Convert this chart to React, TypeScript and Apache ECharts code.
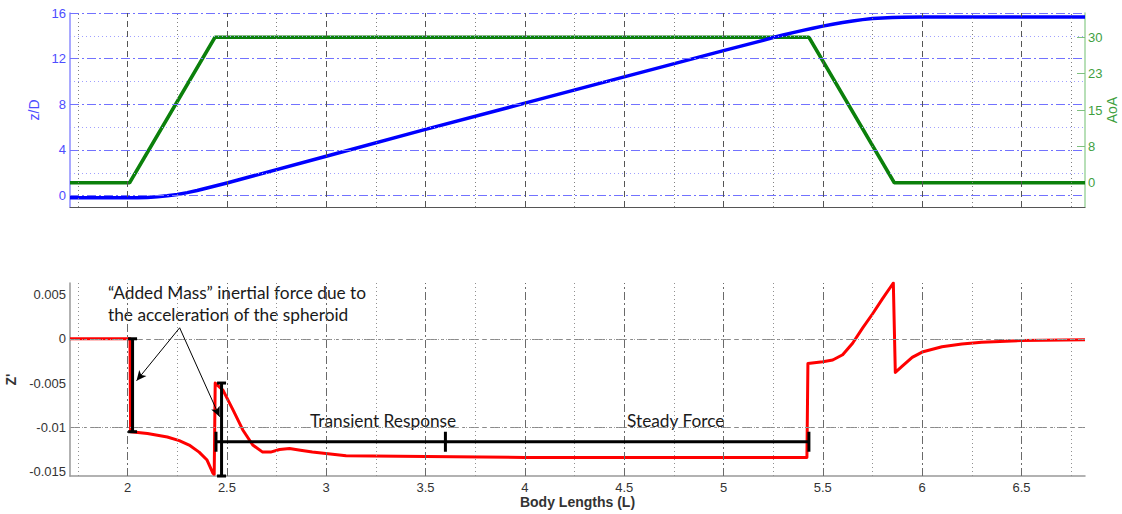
import React, { useEffect, useRef } from "react";
import * as echarts from "echarts";

// Shared x range (body lengths)
const xMin = 1.71;
const xMax = 6.82;
const xMajorTicks = [2, 2.5, 3, 3.5, 4, 4.5, 5, 5.5, 6, 6.5];
const xMinorTicks = [1.75, 2.25, 2.75, 3.25, 3.75, 4.25, 4.75, 5.25, 5.75, 6.25, 6.75];

// Upper panel: depth z/D (left) and angle of attack (right)
const zdRange = [-1, 16];
const zdMajorTicks = [0, 4, 8, 12, 16];
const zdMinorTicks = [2, 6, 10, 14];
const aoaRange = [-5, 35];
const aoaTicks = [0, 7.5, 15, 22.5, 30];

const zOverD: [number, number][] = [
  [1.71, -0.2], [2.0, -0.2], [2.05, -0.19], [2.1, -0.16], [2.15, -0.1], [2.2, -0.02],
  [2.25, 0.1], [2.3, 0.26], [2.35, 0.45], [2.4, 0.67], [2.45, 0.88], [2.5, 1.1],
  [3.0, 3.45], [3.5, 5.8], [4.0, 8.1], [4.5, 10.4], [5.0, 12.7], [5.2, 13.6],
  [5.25, 13.85], [5.3, 14.07], [5.35, 14.28], [5.4, 14.48], [5.45, 14.67], [5.5, 14.85],
  [5.55, 15.02], [5.6, 15.17], [5.65, 15.3], [5.7, 15.42], [5.75, 15.51], [5.8, 15.57],
  [5.85, 15.61], [5.9, 15.63], [6.0, 15.65], [6.82, 15.65],
];

const angleOfAttack: [number, number][] = [
  [1.71, 0], [2.01, 0], [2.44, 30], [5.43, 30], [5.86, 0], [6.82, 0],
];

// Lower panel: normal force coefficient Z'
const forceRange = [-0.0155, 0.0063];
const forceMajorTicks = [-0.015, -0.01, -0.005, 0, 0.005];
const forceMinorTicks = [-0.0125, -0.0075, -0.0025, 0.0025];

const normalForce: [number, number][] = [
  [1.71, 0], [2.0, 0], [2.012, 0], [2.015, -0.0105], [2.1, -0.0107], [2.2, -0.0111],
  [2.26, -0.0115], [2.31, -0.012], [2.36, -0.0128], [2.4, -0.0137], [2.43, -0.0152],
  [2.436, -0.0153], [2.441, -0.005], [2.48, -0.0058], [2.53, -0.008], [2.58, -0.0103],
  [2.63, -0.012], [2.68, -0.0128], [2.72, -0.0128], [2.765, -0.0125], [2.815, -0.0124],
  [2.87, -0.0126], [2.93, -0.0128], [3.1, -0.0132], [3.5, -0.0133], [4.0, -0.0134],
  [5.0, -0.0134], [5.42, -0.0134], [5.425, -0.0028], [5.5, -0.0026], [5.55, -0.0024],
  [5.6, -0.0018], [5.65, -0.0005], [5.7, 0.0012], [5.75, 0.0028], [5.8, 0.0045],
  [5.855, 0.0063], [5.865, -0.0038], [5.9, -0.0031], [5.95, -0.0021], [6.0, -0.0015],
  [6.1, -0.0009], [6.2, -0.0006], [6.3, -0.0004], [6.5, -0.0002], [6.82, -0.0001],
];

// Annotation brackets on the lower panel
const addedMassBar1: [number, number][] = [[2.025, 0], [2.025, -0.0105]];
const addedMassBar2: [number, number][] = [[2.473, -0.005], [2.473, -0.0155]];
const responseBar: [number, number][] = [[2.445, -0.01163], [3.6, -0.01163], [5.43, -0.01163]];
const arrowFrom: [number, number] = [2.262, 0.00124];
const arrowTargets: [number, number][] = [[2.045, -0.00474], [2.463, -0.0088]];

const annotationFont = 'Lato, "Open Sans", sans-serif';

function gridLines(values: number[], axis: "xAxis" | "yAxis", color: string, type: any) {
  return values.map((v) => ({
    [axis]: v,
    lineStyle: { color, type, width: 1 },
  }));
}

function gridHolder(xIdx: number, yIdx: number, data: any[]) {
  return {
    type: "line",
    xAxisIndex: xIdx,
    yAxisIndex: yIdx,
    data: [],
    z: 0,
    silent: true,
    markLine: {
      silent: true,
      symbol: ["none", "none"],
      label: { show: false },
      animation: false,
      data,
    },
  };
}

export default function App() {
  const ref = useRef<HTMLDivElement>(null);

  useEffect(() => {
    document.body.style.margin = "0";
    if (!ref.current) return;
    const chart = echarts.init(ref.current, undefined, { renderer: "svg" });

    const labelFont = '"Liberation Sans", Arial, sans-serif';

    const option: any = {
      animation: false,
      backgroundColor: "#ffffff",
      grid: [
        { left: 70, right: 37, top: 13, height: 194, containLabel: false, outerBoundsMode: "none" },
        { left: 70, right: 37, top: 283, height: 193, containLabel: false, outerBoundsMode: "none" },
      ],
      xAxis: [
        {
          type: "value",
          gridIndex: 0,
          min: xMin,
          max: xMax,
          axisLine: { show: true, onZero: false, lineStyle: { color: "#555", width: 1 } },
          axisTick: { show: false },
          axisLabel: { show: false },
          splitLine: { show: false },
        },
        {
          type: "value",
          gridIndex: 1,
          min: xMin,
          max: xMax,
          name: "Body Lengths (L)",
          nameLocation: "middle",
          nameGap: 17,
          nameTextStyle: { fontFamily: labelFont, fontSize: 14, fontWeight: "bold", color: "#333" },
          axisLine: { show: true, onZero: false, lineStyle: { color: "#999", width: 1.5 } },
          axisTick: { show: false },
          axisLabel: {
            customValues: xMajorTicks,
            fontFamily: labelFont,
            fontSize: 13,
            color: "#333",
            margin: 5,
            formatter: (v: number) => String(v),
          },
          splitLine: { show: false },
        },
      ],
      yAxis: [
        {
          type: "value",
          gridIndex: 0,
          position: "left",
          min: zdRange[0],
          max: zdRange[1],
          name: "z/D",
          nameLocation: "middle",
          nameRotate: 90,
          nameGap: 22,
          nameTextStyle: { fontFamily: labelFont, fontSize: 14, color: "#4d4dff" },
          axisLine: { show: true, onZero: false, lineStyle: { color: "#8c8cff", width: 1.5 } },
          axisTick: { show: false },
          axisLabel: {
            customValues: zdMajorTicks,
            fontFamily: labelFont,
            fontSize: 13,
            color: "#4d4dff",
            margin: 4,
          },
          splitLine: { show: false },
        },
        {
          type: "value",
          gridIndex: 0,
          position: "right",
          min: aoaRange[0],
          max: aoaRange[1],
          axisLine: { show: true, onZero: false, lineStyle: { color: "#9fd59f", width: 1.5 } },
          axisTick: {
            show: true,
            inside: true,
            length: 8,
            customValues: aoaTicks,
            lineStyle: { color: "#7fc07f" },
          },
          axisLabel: {
            customValues: aoaTicks,
            fontFamily: labelFont,
            fontSize: 13,
            color: "#3f9f3f",
            margin: 3,
            formatter: (v: number) => String(Math.round(v)),
          },
          splitLine: { show: false },
        },
        {
          type: "value",
          gridIndex: 1,
          min: forceRange[0],
          max: forceRange[1],
          name: "Z'",
          nameLocation: "middle",
          nameRotate: 90,
          nameGap: 48,
          nameTextStyle: { fontFamily: labelFont, fontSize: 14, fontWeight: "bold", color: "#333" },
          axisLine: { show: true, onZero: false, lineStyle: { color: "#999", width: 1.5 } },
          axisTick: { show: false },
          axisLabel: {
            customValues: forceMajorTicks,
            fontFamily: labelFont,
            fontSize: 13,
            color: "#333",
            margin: 4,
            formatter: (v: number) => String(parseFloat(v.toFixed(4))),
          },
          splitLine: { show: false },
        },
      ],
      series: [
        // Upper panel gridlines
        gridHolder(0, 0, [
          ...gridLines(zdMajorTicks, "yAxis", "#7272ff", [9, 3, 2, 3]),
          ...gridLines(zdMinorTicks, "yAxis", "#a0a0ff", [1, 3]),
          ...gridLines(xMajorTicks, "xAxis", "#555555", [6, 4]),
          ...gridLines(xMinorTicks, "xAxis", "#808080", [1, 3]),
        ]),
        // Lower panel gridlines
        gridHolder(1, 2, [
          ...gridLines(forceMajorTicks, "yAxis", "#8a8a8a", [10, 4, 3, 4]),
          ...gridLines(forceMinorTicks, "yAxis", "#a0a0a0", [1, 3]),
          ...gridLines(xMajorTicks, "xAxis", "#6a6a6a", [8, 3, 2, 3]),
          ...gridLines(xMinorTicks, "xAxis", "#909090", [1, 3]),
        ]),
        {
          name: "AoA",
          type: "line",
          xAxisIndex: 0,
          yAxisIndex: 1,
          data: angleOfAttack,
          symbol: "none",
          lineStyle: { color: "#0b800b", width: 3.5 },
          z: 3,
        },
        {
          name: "z/D",
          type: "line",
          xAxisIndex: 0,
          yAxisIndex: 0,
          data: zOverD,
          symbol: "none",
          lineStyle: { color: "#0000ff", width: 3.5, join: "round" },
          z: 4,
        },
        {
          name: "Z'",
          type: "line",
          xAxisIndex: 1,
          yAxisIndex: 2,
          data: normalForce,
          symbol: "none",
          lineStyle: { color: "#ff0000", width: 3, join: "round" },
          z: 3,
        },
        {
          type: "line",
          xAxisIndex: 1,
          yAxisIndex: 2,
          data: addedMassBar1,
          symbol: "rect",
          symbolSize: [9, 3],
          itemStyle: { color: "#000" },
          lineStyle: { color: "#000", width: 3 },
          z: 5,
          silent: true,
        },
        {
          type: "line",
          xAxisIndex: 1,
          yAxisIndex: 2,
          data: addedMassBar2,
          symbol: "rect",
          symbolSize: [9, 3],
          itemStyle: { color: "#000" },
          lineStyle: { color: "#000", width: 3 },
          z: 5,
          silent: true,
        },
        {
          type: "line",
          xAxisIndex: 1,
          yAxisIndex: 2,
          data: responseBar,
          symbol: "rect",
          symbolSize: [3, 20],
          itemStyle: { color: "#000" },
          lineStyle: { color: "#000", width: 3 },
          z: 5,
          silent: true,
          markLine: {
            silent: true,
            symbol: ["none", "arrow"],
            symbolSize: [7, 10],
            label: { show: false },
            lineStyle: { color: "#000", width: 1, type: "solid" },
            data: arrowTargets.map((t) => [{ coord: arrowFrom }, { coord: t }]),
          },
        },
      ],
      graphic: [
        {
          // right-hand axis title, read bottom to top
          type: "text",
          x: 1112,
          y: 110,
          rotation: Math.PI / 2,
          silent: true,
          style: {
            text: "AoA",
            fontFamily: labelFont,
            fontSize: 14,
            fill: "#3f9f3f",
            align: "center",
            verticalAlign: "middle",
          },
        },
        {
          type: "text",
          left: 108,
          top: 284,
          silent: true,
          style: { text: "“Added Mass” inertial force due to", fontFamily: annotationFont, fontSize: 17.3, fill: "#1a1a1a" },
        },
        {
          type: "text",
          left: 108,
          top: 306,
          silent: true,
          style: { text: "the acceleration of the spheroid", fontFamily: annotationFont, fontSize: 17.3, fill: "#1a1a1a" },
        },
        {
          type: "text",
          left: 310,
          top: 412,
          silent: true,
          style: { text: "Transient Response", fontFamily: annotationFont, fontSize: 17.3, fill: "#1a1a1a" },
        },
        {
          type: "text",
          left: 627,
          top: 412,
          silent: true,
          style: { text: "Steady Force", fontFamily: annotationFont, fontSize: 17.3, fill: "#1a1a1a" },
        },
      ],
    };

    chart.setOption(option);
    return () => chart.dispose();
  }, []);

  return <div ref={ref} style={{ width: 1122, height: 514 }} />;
}
